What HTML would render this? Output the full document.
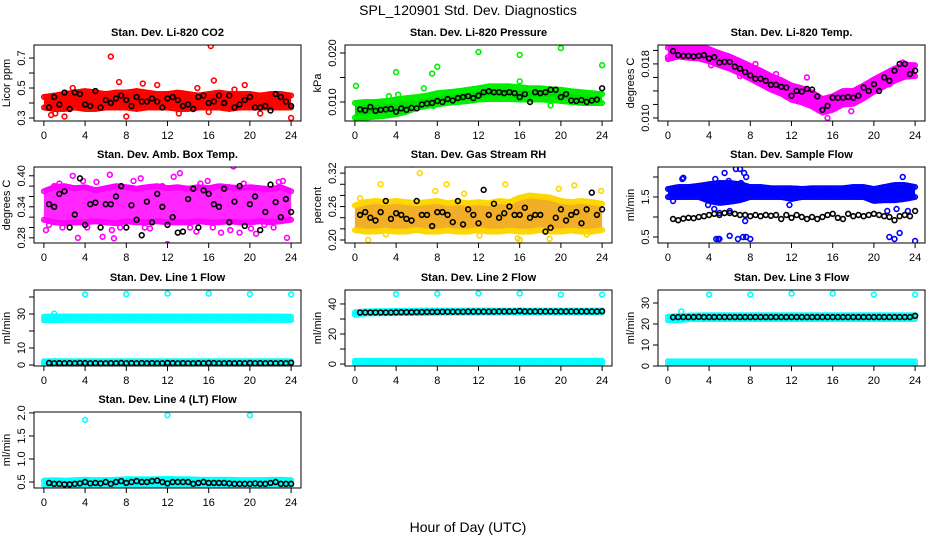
<!DOCTYPE html>
<html><head><meta charset="utf-8">
<style>
html,body{margin:0;padding:0;background:#fff;}
svg{display:block;font-family:"Liberation Sans",Arial,sans-serif;}
</style></head>
<body>
<svg id="chart" width="936" height="540" viewBox="0 0 936 540" xmlns="http://www.w3.org/2000/svg">
<text x="468" y="15" text-anchor="middle" font-size="14">SPL_120901  Std. Dev. Diagnostics</text>
<text x="468" y="532" text-anchor="middle" font-size="14">Hour of Day (UTC)</text>
</svg>
<script>
// ---- data ----
const xTicks = [0,4,8,12,16,20,24];
const bandHours = [0,1,2,3,4,5,6,7,8,9,10,11,12,13,14,15,16,17,18,19,20,21,22,23,24];

const co2Black = [0.37,0.44,0.39,0.47,0.36,0.47,0.46,0.39,0.38,0.48,0.37,0.42,0.40,0.43,0.45,0.42,0.38,0.44,0.41,0.41,0.43,0.41,0.37,0.43,0.44,0.42,0.38,0.39,0.36,0.44,0.45,0.40,0.41,0.45,0.40,0.45,0.37,0.39,0.42,0.44,0.37,0.37,0.38,0.35,0.46,0.44,0.41,0.38];
const co2Lo = [0.37,0.36,0.36,0.37,0.36,0.36,0.37,0.37,0.37,0.36,0.37,0.37,0.37,0.36,0.36,0.37,0.37,0.37,0.36,0.37,0.37,0.37,0.37,0.37,0.37];
const co2Hi = [0.44,0.45,0.46,0.47,0.48,0.47,0.46,0.47,0.47,0.48,0.47,0.46,0.46,0.47,0.46,0.45,0.46,0.47,0.46,0.46,0.46,0.45,0.46,0.46,0.45];
const co2OutH = [6.5,16.2,7.3,16.5,0.7,1.1,2,8,16,13.1,19.5,24,9.6,21,2.8,11,14.9,18.5];
const co2OutV = [0.71,0.78,0.54,0.55,0.32,0.33,0.31,0.31,0.34,0.33,0.52,0.30,0.53,0.33,0.50,0.52,0.50,0.49];

const presBlack = [0.0085,0.0083,0.0090,0.0082,0.0084,0.0085,0.0086,0.0080,0.0087,0.0084,0.0088,0.0087,0.0095,0.0097,0.0098,0.0102,0.0100,0.0106,0.0103,0.0108,0.0110,0.0112,0.0108,0.0113,0.0120,0.0122,0.0120,0.0120,0.0118,0.0120,0.0118,0.0110,0.0116,0.0100,0.0120,0.0118,0.0120,0.0125,0.0125,0.0110,0.0116,0.0103,0.0102,0.0104,0.0100,0.0103,0.0105,0.0128];
const presLo = [0.0068,0.0068,0.0070,0.0072,0.0075,0.0080,0.0088,0.0092,0.0095,0.0098,0.0100,0.0102,0.0105,0.0106,0.0106,0.0106,0.0105,0.0105,0.0105,0.0104,0.0102,0.0100,0.0098,0.0098,0.0098];
const presHi = [0.0098,0.0100,0.0100,0.0102,0.0105,0.0108,0.0110,0.0113,0.0118,0.0120,0.0122,0.0125,0.0128,0.0132,0.0132,0.0132,0.0130,0.0128,0.0128,0.0126,0.0125,0.0122,0.0120,0.0118,0.0116];
const presOutH = [0.1,4,4.2,7.5,8,12,16,20,24,6.7,19,16,3.3,7.6];
const presOutV = [0.0133,0.0161,0.0115,0.0158,0.0172,0.0202,0.0196,0.0210,0.0175,0.0128,0.0093,0.0142,0.0112,0.0092];

const tempBlack = [0.0199,0.0193,0.0192,0.0192,0.0191,0.0192,0.0193,0.0188,0.0190,0.0182,0.0183,0.0183,0.0176,0.0173,0.0168,0.0163,0.0158,0.0158,0.0155,0.0149,0.0149,0.0146,0.0145,0.0133,0.0140,0.0139,0.0143,0.0142,0.0132,0.0112,0.0118,0.0130,0.0130,0.0130,0.0131,0.0130,0.0133,0.0145,0.0140,0.0150,0.0140,0.0160,0.0155,0.0170,0.0180,0.0180,0.0165,0.0170];
const tempLo = [0.0187,0.0191,0.0189,0.0188,0.0184,0.0178,0.0173,0.0166,0.0158,0.0150,0.0142,0.0136,0.0127,0.0123,0.0117,0.0108,0.0112,0.0120,0.0121,0.0129,0.0139,0.0147,0.0155,0.0161,0.0162];
const tempHi = [0.0204,0.0209,0.0207,0.0206,0.0202,0.0196,0.0191,0.0184,0.0177,0.0170,0.0162,0.0156,0.0148,0.0144,0.0138,0.0128,0.0132,0.0140,0.0140,0.0148,0.0157,0.0165,0.0173,0.0179,0.0178];
const tempOutH = [0,4.2,7,8.5,10.5,13.5,15.5,17.8,19,21.5,22.8];
const tempOutV = [0.0190,0.0178,0.0162,0.0180,0.0165,0.0160,0.0100,0.0110,0.0145,0.0150,0.0182];

const ambBlack = [0.345,0.340,0.365,0.370,0.300,0.325,0.395,0.305,0.345,0.348,0.300,0.345,0.345,0.360,0.380,0.300,0.343,0.315,0.285,0.350,0.310,0.365,0.340,0.305,0.320,0.290,0.292,0.355,0.375,0.300,0.372,0.365,0.345,0.340,0.375,0.310,0.350,0.380,0.303,0.345,0.360,0.295,0.330,0.383,0.349,0.320,0.355,0.330];
const ambLo = [0.315,0.310,0.308,0.310,0.310,0.312,0.310,0.308,0.312,0.310,0.310,0.312,0.310,0.310,0.310,0.312,0.310,0.310,0.312,0.310,0.310,0.312,0.310,0.312,0.315];
const ambHi = [0.370,0.378,0.380,0.376,0.378,0.372,0.376,0.380,0.378,0.375,0.378,0.380,0.376,0.378,0.375,0.378,0.376,0.380,0.378,0.376,0.378,0.376,0.374,0.378,0.370];
const ambOutH = [0.2,0.5,1,1.5,2.8,3.3,3.8,4.2,5.7,6.4,6.6,6.8,7.4,8.7,9.4,10.3,11.5,12,12.6,13.2,14.2,14.8,15.2,16.4,17.2,18.1,18.4,19,19.4,20.1,20.6,21.4,22.3,22.8,23.2,23.6,1.8,5.1,9.8,15.9];
const ambOutV = [0.295,0.305,0.380,0.385,0.400,0.280,0.390,0.300,0.282,0.402,0.295,0.279,0.300,0.390,0.395,0.298,0.380,0.268,0.398,0.405,0.300,0.292,0.385,0.300,0.290,0.295,0.418,0.290,0.385,0.298,0.288,0.305,0.300,0.388,0.390,0.280,0.300,0.388,0.300,0.390];

const rhBlack = [0.245,0.250,0.240,0.235,0.250,0.270,0.238,0.248,0.245,0.238,0.235,0.270,0.245,0.245,0.225,0.250,0.250,0.245,0.232,0.270,0.228,0.255,0.245,0.230,0.290,0.245,0.265,0.240,0.248,0.260,0.245,0.245,0.258,0.240,0.245,0.245,0.215,0.222,0.240,0.255,0.235,0.245,0.250,0.230,0.255,0.285,0.245,0.255];
const rhLo = [0.218,0.215,0.215,0.217,0.215,0.215,0.218,0.215,0.215,0.217,0.215,0.215,0.218,0.215,0.215,0.217,0.215,0.215,0.218,0.215,0.215,0.217,0.215,0.215,0.218];
const rhHi = [0.262,0.268,0.270,0.268,0.270,0.268,0.266,0.268,0.270,0.266,0.268,0.266,0.268,0.266,0.270,0.268,0.276,0.280,0.278,0.276,0.270,0.268,0.270,0.268,0.265];
const rhOutH = [5.5,6.3,1.3,8.9,2.5,14.6,21.3,23.9,15.8,16,18.9,0.5,3,10.6,12.1,19.8,22.5,7.8];
const rhOutV = [0.335,0.320,0.200,0.300,0.300,0.300,0.298,0.288,0.203,0.200,0.202,0.275,0.210,0.283,0.208,0.292,0.210,0.288];

const flowBlack = [0.95,0.92,0.96,0.98,0.97,1.0,1.02,1.05,1.08,1.05,1.1,1.1,1.08,1.05,1.05,1.02,1.05,1.02,1.05,1.03,1.05,0.95,1.05,0.98,1.05,1.0,0.95,1.0,0.95,1.0,1.05,1.08,0.98,0.95,1.08,1.02,1.05,1.02,1.05,1.08,1.05,1.02,1.0,0.92,1.02,1.05,1.02,1.15];
const flowLo = [1.5,1.5,1.5,1.5,1.4,1.35,1.38,1.42,1.5,1.5,1.5,1.5,1.45,1.5,1.5,1.5,1.5,1.5,1.5,1.5,1.4,1.42,1.42,1.45,1.5];
const flowHi = [1.7,1.75,1.75,1.78,1.82,1.85,1.85,1.82,1.75,1.75,1.72,1.72,1.72,1.7,1.72,1.72,1.72,1.72,1.75,1.75,1.7,1.75,1.8,1.8,1.75];
const flowOutH = [1.4,1.5,5.5,6.6,7,7.4,7.6,3.9,4.5,5,6,7.5,11.8,4.7,4.9,5,6,6.8,7.3,7.6,8,21.5,22,22.5,24,22.8,21.3,22.2,0.5,4.6,5.9,7.1,23.3];
const flowOutV = [1.95,1.98,2.1,2.2,2.2,2.1,2.0,1.3,1.2,1.1,1.15,0.9,1.3,0.45,0.45,0.45,0.53,0.45,0.5,0.5,0.45,0.5,0.45,0.6,0.4,2.0,1.15,1.2,1.4,1.95,1.9,1.85,1.15];

const line1Black = [1.2,1.0,1.1,1.0,1.1,1.0,1.2,1.1,1.0,1.1,1.0,1.0,1.1,1.0,1.2,1.0,1.1,1.0,1.1,1.0,1.1,1.0,1.0,1.2,1.1,1.0,1.1,1.0,1.0,1.1,1.0,1.2,1.1,1.0,1.0,1.1,1.0,1.1,1.0,1.2,1.0,1.1,1.0,1.1,1.0,1.1,1.0,1.3];
const line1Lo = [26.4,26.3,26.5,26.5,26.5,26.5,26.5,26.5,26.5,26.5,26.5,26.5,26.5,26.5,26.5,26.5,26.5,26.5,26.5,26.5,26.5,26.5,26.5,26.5,26.4];
const line1Hi = [28.4,28.6,28.5,28.5,28.5,28.5,28.5,28.5,28.5,28.5,28.5,28.5,28.5,28.5,28.5,28.5,28.5,28.5,28.5,28.5,28.5,28.5,28.5,28.5,28.4];
const line1OutH = [4,8,12,16,20,24,1,0,1];
const line1OutV = [41.5,41.7,42.0,42.0,41.7,41.5,30.2,1.5,2.2];

const line2Black = [34.3,34.3,34.3,34.3,34.3,34.3,34.3,34.4,34.5,34.5,34.5,34.6,34.6,34.7,34.7,34.7,34.8,34.8,34.8,34.8,34.8,34.9,34.9,34.9,34.9,34.9,34.9,35.0,35.0,35.0,35.0,35.3,35.0,35.0,35.0,35.0,35.0,35.0,35.0,35.0,35.0,35.0,35.0,35.0,35.0,35.0,35.0,35.2];
const line2Lo = [32.8,33.6,33.8,33.8,34.0,34.0,34.0,34.1,34.2,34.2,34.2,34.2,34.3,34.3,34.3,34.3,34.3,34.3,34.3,34.3,34.3,34.3,34.3,34.3,34.3];
const line2Hi = [34.5,35.0,35.2,35.2,35.4,35.4,35.5,35.6,35.6,35.6,35.6,35.6,35.6,35.6,35.6,35.6,35.6,35.6,35.6,35.6,35.6,35.6,35.6,35.6,35.6];
const line2OutH = [4,8,12,16,20,24];
const line2OutV = [46.6,46.8,47.0,47.0,46.2,46.2];

const line3Black = [23.2,23.3,23.3,23.3,23.3,23.4,23.3,23.3,23.3,23.3,23.3,23.3,23.3,23.3,23.3,23.3,23.3,23.3,23.3,23.3,23.3,23.3,23.3,23.3,23.3,23.3,23.3,23.3,23.3,23.3,23.3,23.3,23.3,23.3,23.3,23.3,23.3,23.3,23.3,23.3,23.3,23.3,23.3,23.3,23.3,23.3,23.3,23.9];
const line3Lo = [21.8,21.8,22.3,22.3,22.4,22.4,22.4,22.4,22.4,22.4,22.4,22.4,22.4,22.4,22.4,22.4,22.4,22.4,22.4,22.4,22.4,22.4,22.4,22.4,22.4];
const line3Hi = [23.5,23.8,24.0,24.1,24.2,24.2,24.2,24.2,24.2,24.2,24.2,24.2,24.2,24.2,24.2,24.2,24.2,24.2,24.2,24.2,24.2,24.2,24.2,24.2,24.2];
const line3OutH = [4,8,12,16,20,24,1.3];
const line3OutV = [34.0,34.0,34.5,34.5,34.0,34.0,26.0];

const line4Black = [0.48,0.46,0.46,0.45,0.45,0.46,0.47,0.50,0.47,0.48,0.47,0.50,0.46,0.50,0.52,0.48,0.50,0.52,0.50,0.50,0.52,0.53,0.50,0.47,0.50,0.50,0.50,0.50,0.46,0.48,0.50,0.48,0.48,0.48,0.48,0.47,0.46,0.46,0.46,0.46,0.47,0.46,0.46,0.48,0.50,0.46,0.46,0.46];
const line4Lo = [0.44,0.43,0.43,0.43,0.43,0.44,0.43,0.44,0.44,0.44,0.44,0.44,0.43,0.44,0.44,0.44,0.44,0.43,0.44,0.44,0.43,0.43,0.43,0.44,0.44];
const line4Hi = [0.53,0.54,0.53,0.54,0.55,0.54,0.54,0.55,0.56,0.56,0.56,0.56,0.57,0.56,0.56,0.55,0.55,0.55,0.55,0.54,0.54,0.54,0.55,0.55,0.54];
const line4OutH = [4,12,20];
const line4OutV = [1.85,1.95,1.95];

const lowLo = [0.6,0.6,0.6,0.6,0.6,0.6,0.6,0.6,0.6,0.6,0.6,0.6,0.6,0.6,0.6,0.6,0.6,0.6,0.6,0.6,0.6,0.6,0.6,0.6,0.6];
const lowHi = [2.2,2.2,2.2,2.2,2.2,2.2,2.2,2.2,2.2,2.2,2.2,2.2,2.2,2.2,2.2,2.2,2.2,2.2,2.2,2.2,2.2,2.2,2.2,2.2,2.2];

// ---- layout ----
const colLeft = [34,345,658], rowTop = [45,167,290,412], BW = 267, BH = 76;
const panels = [
 {id:'co2',title:'Stan. Dev. Li-820 CO2',ylab:'Licor ppm',col:0,row:0,y0:0.28,y1:0.787,ticks:[0.3,0.4,0.5,0.6,0.7],labs:['0.3','','0.5','','0.7'],color:'#ff0000',edge:'#ff0000',lo:co2Lo,hi:co2Hi,black:co2Black,oh:co2OutH,ov:co2OutV},
 {id:'pressure',title:'Stan. Dev. Li-820 Pressure',ylab:'kPa',col:1,row:0,y0:0.00612,y1:0.02163,ticks:[0.010,0.015,0.020],labs:['0.010','','0.020'],color:'#00dd00',edge:'#00ee00',lo:presLo,hi:presHi,black:presBlack,oh:presOutH,ov:presOutV},
 {id:'temp',title:'Stan. Dev. Li-820 Temp.',ylab:'degrees C',col:2,row:0,y0:0.00955,y1:0.0208,ticks:[0.010,0.012,0.014,0.016,0.018,0.020],labs:['0.010','','','','0.018',''],color:'#ff00ff',edge:'#ff00ff',lo:tempLo,hi:tempHi,black:tempBlack,oh:tempOutH,ov:tempOutV},
 {id:'amb-box-temp',title:'Stan. Dev. Amb. Box Temp.',ylab:'degrees C',col:0,row:1,y0:0.27,y1:0.417,ticks:[0.28,0.30,0.32,0.34,0.36,0.38,0.40],labs:['0.28','','','0.34','','','0.40'],color:'#ff00ff',edge:'#ff00ff',lo:ambLo,hi:ambHi,black:ambBlack,oh:ambOutH,ov:ambOutV,sparse:true},
 {id:'gas-rh',title:'Stan. Dev. Gas Stream RH',ylab:'percent',col:1,row:1,y0:0.1946,y1:0.331,ticks:[0.20,0.22,0.24,0.26,0.28,0.30,0.32],labs:['0.20','','','0.26','','','0.32'],color:'#f0a000',edge:'#ffd700',lo:rhLo,hi:rhHi,black:rhBlack,oh:rhOutH,ov:rhOutV,sparse:true},
 {id:'sample-flow',title:'Stan. Dev. Sample Flow',ylab:'ml/min',col:2,row:1,y0:0.35,y1:2.25,ticks:[0.5,1.0,1.5,2.0],labs:['0.5','','1.5',''],color:'#0000ff',edge:'#0000ff',lo:flowLo,hi:flowHi,black:flowBlack,oh:flowOutH,ov:flowOutV},
 {id:'line1-flow',title:'Stan. Dev. Line 1 Flow',ylab:'ml/min',col:0,row:2,y0:-0.6,y1:44.1,ticks:[0,10,20,30,40],labs:['0','10','','30',''],color:'#00ffff',edge:'#00ffff',lo:line1Lo,hi:line1Hi,black:line1Black,oh:line1OutH,ov:line1OutV,low:true},
 {id:'line2-flow',title:'Stan. Dev. Line 2 Flow',ylab:'ml/min',col:1,row:2,y0:-1.3,y1:49.3,ticks:[0,10,20,30,40],labs:['0','','20','','40'],color:'#00ffff',edge:'#00ffff',lo:line2Lo,hi:line2Hi,black:line2Black,oh:line2OutH,ov:line2OutV,low:true},
 {id:'line3-flow',title:'Stan. Dev. Line 3 Flow',ylab:'ml/min',col:2,row:2,y0:0,y1:36.2,ticks:[0,10,20,30],labs:['0','10','20','30'],color:'#00ffff',edge:'#00ffff',lo:line3Lo,hi:line3Hi,black:line3Black,oh:line3OutH,ov:line3OutV,low:true},
 {id:'line4-flow',title:'Stan. Dev. Line 4 (LT) Flow',ylab:'ml/min',col:0,row:3,y0:0.37,y1:2.02,ticks:[0.5,1.0,1.5,2.0],labs:['0.5','1.0','1.5','2.0'],color:'#00ffff',edge:'#00ffff',lo:line4Lo,hi:line4Hi,black:line4Black,oh:line4OutH,ov:line4OutV}
];

const NS='http://www.w3.org/2000/svg';
const svg=document.getElementById('chart');
function mk(tag,attrs,parent){const e=document.createElementNS(NS,tag);for(const k in attrs)e.setAttribute(k,attrs[k]);(parent||svg).appendChild(e);return e;}
function interp(arr,h){const i=Math.min(23,Math.floor(h));const f=h-i;return arr[i]*(1-f)+arr[i+1]*f;}

panels.forEach(p=>{
  const L=colLeft[p.col],T=rowTop[p.row];
  const xs=h=>L+9.9+h*(BW-19.8)/24;
  const ys=v=>T+BH-(v-p.y0)/(p.y1-p.y0)*BH;
  const g=mk('g',{});
  
  
  const clip=mk('clipPath',{id:'clip-'+p.id},g);
  mk('rect',{x:L,y:T,width:BW,height:BH},clip);
  const t=mk('text',{x:L+BW/2,y:T-9,'text-anchor':'middle','font-size':'11','font-weight':'bold'},g);
  t.textContent=p.title;
  
  
  const yl=mk('text',{x:0,y:0,'text-anchor':'middle','font-size':'11',transform:`translate(${L-24},${T+BH/2}) rotate(-90)`},g);
  yl.textContent=p.ylab;
  
  
  const marks=mk('g',{'clip-path':`url(#clip-${p.id})`},g);
  
  
  const bands=[[p.lo,p.hi]]; if(p.low) bands.push([lowLo,lowHi]);
  bands.forEach(([lo,hi])=>{
    let pts=[];
    bandHours.forEach((h,i)=>pts.push(xs(h)+','+ys(hi[i])));
    for(let i=bandHours.length-1;i>=0;i--)pts.push(xs(bandHours[i])+','+ys(lo[i]));
    const poly=mk('polygon',{points:pts.join(' '),fill:p.color,'fill-opacity':p.sparse?0.85:1},marks);
    
    
    for(let h=0;h<=24.001;h+=0.15){
      const a=interp(lo,h),b=interp(hi,h);
      [a,b].forEach(v=>{
        const c=mk('circle',{cx:xs(h),cy:ys(v),r:2.3,fill:'none',stroke:p.edge,'stroke-width':1.4},marks);
        
        
      });
    }
  });
  p.oh.forEach((h,i)=>{
    const c=mk('circle',{cx:xs(h),cy:ys(p.ov[i]),r:2.4,fill:'none',stroke:p.edge,'stroke-width':1.6},marks);
    
    
  });
  p.black.forEach((v,i)=>{
    const c=mk('circle',{cx:xs((i+1)*0.5),cy:ys(v),r:2.4,fill:'none',stroke:'#000','stroke-width':1.6},marks);
    
    
  });
  const box=mk('rect',{x:L,y:T,width:BW,height:BH,fill:'none',stroke:'#000','stroke-width':1},g);
  
  
  xTicks.forEach(h=>{
    mk('line',{x1:xs(h),x2:xs(h),y1:T+BH,y2:T+BH+5,stroke:'#000'},g);
    const tl=mk('text',{x:xs(h),y:T+BH+18,'text-anchor':'middle','font-size':'11'},g);
    tl.textContent=h;
    
    
  });
  p.ticks.forEach((v,i)=>{
    mk('line',{x1:L-5,x2:L,y1:ys(v),y2:ys(v),stroke:'#000'},g);
    if(p.labs[i]){
      const tl=mk('text',{x:0,y:0,'text-anchor':'middle','font-size':'11',transform:`translate(${L-9},${ys(v)}) rotate(-90)`},g);
      tl.textContent=p.labs[i];
      
      
    }
  });
});
</script>
</body></html>
